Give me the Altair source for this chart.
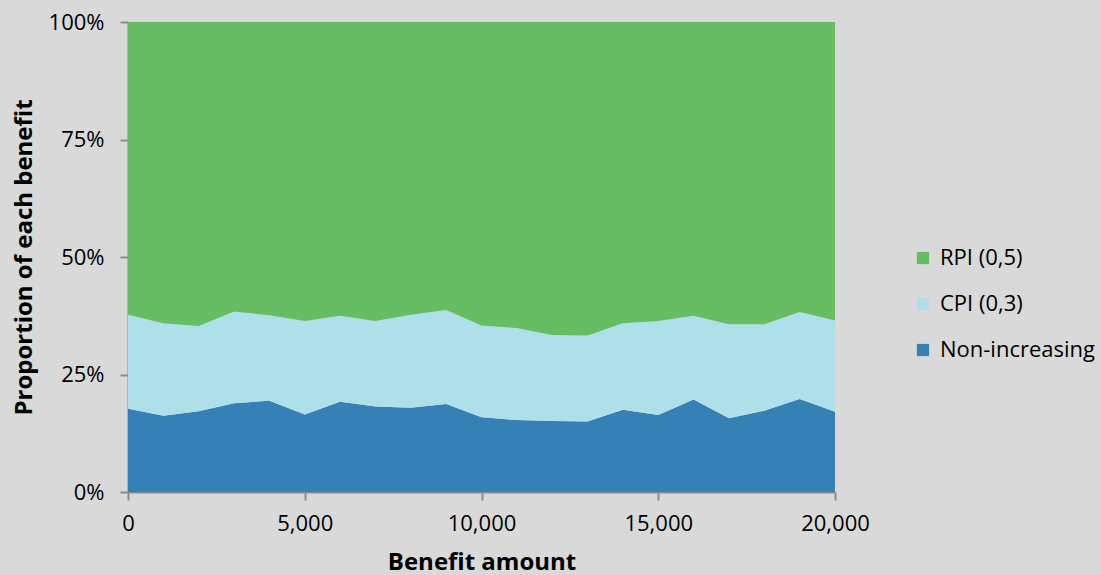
import altair as alt
import pandas as pd

# Benefit amounts (x) and the share of each benefit type, in percent
amounts = list(range(0, 21000, 1000))
non_increasing = [17.7, 16.2, 17.2, 18.9, 19.4, 16.5, 19.2, 18.2, 17.9, 18.7, 15.9,
                  15.3, 15.1, 15.0, 17.5, 16.4, 19.7, 15.7, 17.3, 19.8, 17.1]
cpi_top = [37.7, 35.9, 35.3, 38.4, 37.6, 36.4, 37.5, 36.4, 37.7, 38.7, 35.4,
           34.9, 33.4, 33.3, 35.9, 36.4, 37.5, 35.7, 35.7, 38.3, 36.5]
cpi = [round(t - n, 2) for t, n in zip(cpi_top, non_increasing)]
rpi = [round(100 - t, 2) for t in cpi_top]

series = ["RPI (0,5)", "CPI (0,3)", "Non-increasing"]
colors = ["#66bd63", "#aee0ea", "#3580b4"]
stack_rank = {"Non-increasing": 0, "CPI (0,3)": 1, "RPI (0,5)": 2}

rows = []
for i, a in enumerate(amounts):
    for name, vals in (("Non-increasing", non_increasing), ("CPI (0,3)", cpi), ("RPI (0,5)", rpi)):
        rows.append({"amount": a, "series": name, "share": vals[i], "rank": stack_rank[name]})
df = pd.DataFrame(rows)

FONT = "Open Sans"
AXIS_GREY = "#8c8c8c"

chart = (
    alt.Chart(df)
    .mark_area(opacity=1)
    .encode(
        x=alt.X(
            "amount:Q",
            scale=alt.Scale(domain=[0, 20000], nice=False, zero=True),
            axis=alt.Axis(
                title="Benefit amount",
                values=[0, 5000, 10000, 15000, 20000],
                format=",d",
                grid=False,
                labelFlush=False,
                titlePadding=16,
                labelPadding=13,
            ),
        ),
        y=alt.Y(
            "share:Q",
            stack="zero",
            scale=alt.Scale(domain=[0, 100], nice=False),
            axis=alt.Axis(
                title="Proportion of each benefit",
                values=[0, 25, 50, 75, 100],
                labelExpr="datum.value + '%'",
                grid=False,
                titlePadding=12,
                labelPadding=16,
            ),
        ),
        color=alt.Color(
            "series:N",
            scale=alt.Scale(domain=series, range=colors),
            legend=alt.Legend(
                title=None,
                orient="none",
                legendX=784,
                legendY=225,
                symbolType="square",
                symbolSize=150,
                symbolStrokeWidth=0,
                labelFontSize=22,
                labelFont=FONT,
                labelColor="#000000",
                rowPadding=24,
                labelOffset=6,
            ),
        ),
        order=alt.Order("rank:Q", sort="ascending"),
    )
    .properties(
        width=707,
        height=470,
        background="#d9d9d9",
        padding={"left": 128, "top": 22, "right": 266, "bottom": 83},
        autosize=alt.AutoSizeParams(type="none"),
    )
    .configure_view(stroke=None)
    .configure_axis(
        domainColor=AXIS_GREY,
        domainWidth=2,
        tickColor=AXIS_GREY,
        tickWidth=2,
        tickSize=8,
        labelFont=FONT,
        labelFontSize=22,
        labelColor="#000000",
        titleFont=FONT,
        titleFontSize=24,
        titleFontWeight="bold",
        titleColor="#000000",
    )
)

chart.save("out.html", embed_options={"renderer": "svg", "actions": False})
